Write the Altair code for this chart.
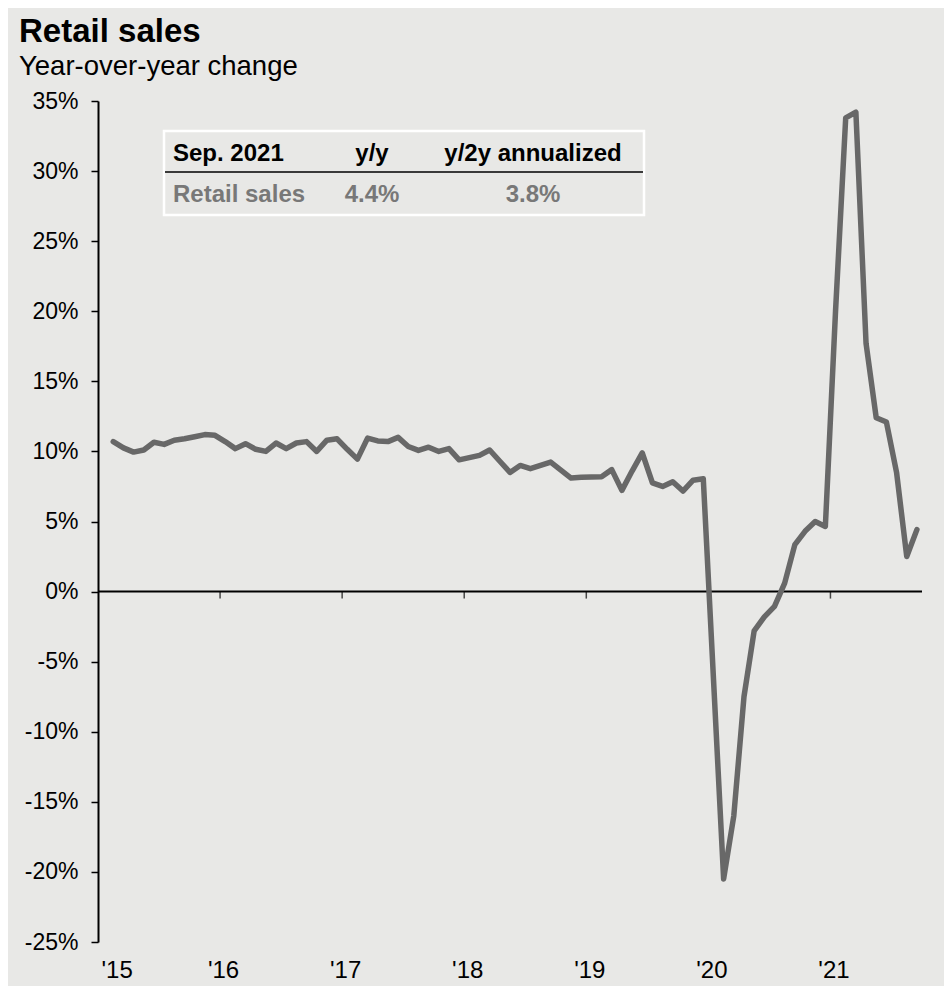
import json
import altair as alt
import pandas as pd

# ---------------- data ----------------
chart_title = "Retail sales"
chart_subtitle = "Year-over-year change"

first_month = "2015-02"
yoy = [10.7, 10.25, 9.95, 10.1, 10.65, 10.5, 10.8, 10.9, 11.05, 11.2, 11.15, 10.7,
       10.2, 10.55, 10.15, 10.0, 10.6, 10.2, 10.6, 10.7, 10.0, 10.8, 10.9, 10.15,
       9.45, 10.95, 10.75, 10.7, 11.0, 10.35, 10.07, 10.3, 10.0, 10.2, 9.4, 9.56,
       9.72, 10.1, 9.3, 8.5, 9.0, 8.77, 9.0, 9.24, 8.67, 8.1, 8.15, 8.17,
       8.2, 8.7, 7.22, 8.6, 9.9, 7.75, 7.5, 7.83, 7.17, 7.95, 8.05, -6.2,
       -20.5, -16.0, -7.5, -2.8, -1.8, -1.05, 0.6, 3.35, 4.3, 5.0, 4.65, 20.0,
       33.8, 34.2, 17.7, 12.4, 12.1, 8.5, 2.5, 4.42]

tick_years = [2015, 2016, 2017, 2018, 2019, 2020, 2021]
tick_labels = ["'15", "'16", "'17", "'18", "'19", "'20", "'21"]
y_ticks = [-25, -20, -15, -10, -5, 0, 5, 10, 15, 20, 25, 30, 35]

table_header = ["Sep. 2021", "y/y", "y/2y annualized"]
table_row = ["Retail sales", "4.4%", "3.8%"]

# ---------------- frames ----------------
periods = pd.period_range(first_month, periods=len(yoy), freq="M")
df = pd.DataFrame({
    "pos": [(p.year - 2015) * 12 + (p.month - 1) + 0.5 for p in periods],
    "yoy": yoy,
})
tick_pos = [(y - 2015) * 12 for y in tick_years]

BG = "#e8e8e6"
FONT = "Liberation Sans"
LINE = "#686868"
W, H = 824, 841

x_scale = alt.Scale(domain=[0, 81], nice=False, zero=False)
y_scale = alt.Scale(domain=[-25, 35], nice=False, zero=False)

label_expr = json.dumps(tick_labels) + "[round(datum.value/12)]"

x_axis = alt.Axis(values=tick_pos, labelExpr=label_expr, domain=False, ticks=False,
                  grid=False, title=None, labelFontSize=24, labelFont=FONT,
                  labelColor="black", labelPadding=16, labelOffset=3)
y_axis = alt.Axis(values=y_ticks, labelExpr="datum.value + '%'", grid=False, title=None,
                  domainColor="black", domainWidth=2, tickColor="black", tickWidth=1.5,
                  tickSize=7, labelFontSize=23, labelFont=FONT, labelColor="black",
                  labelPadding=13)

one = pd.DataFrame({"k": [0]})

table_box = alt.Chart(one).mark_rect(fill=BG, stroke="white", strokeWidth=2.5).encode(
    x=alt.value(66), x2=alt.value(546), y=alt.value(30), y2=alt.value(114))
table_rule = alt.Chart(one).mark_rule(color="black", strokeWidth=1.5).encode(
    x=alt.value(67), x2=alt.value(545), y=alt.value(71))

col_x = [75, 274, 435]
col_align = ["left", "center", "center"]
cells = []
for j in range(3):
    cells.append(alt.Chart(one).mark_text(
        font=FONT, fontSize=24, fontWeight="bold", color="black",
        align=col_align[j], baseline="alphabetic").encode(
        x=alt.value(col_x[j]), y=alt.value(60), text=alt.value(table_header[j])))
    cells.append(alt.Chart(one).mark_text(
        font=FONT, fontSize=24, fontWeight="bold", color="#787878",
        align=col_align[j], baseline="alphabetic").encode(
        x=alt.value(col_x[j]), y=alt.value(101), text=alt.value(table_row[j])))

zero_rule = alt.Chart(pd.DataFrame({"y": [0]})).mark_rule(color="black", strokeWidth=2).encode(
    y=alt.Y("y:Q", scale=y_scale, axis=y_axis))

year_marks = alt.Chart(pd.DataFrame({"pos": tick_pos[1:]})).mark_tick(
    orient="vertical", color="black", thickness=1.5, size=7, yOffset=3.5).encode(
    x=alt.X("pos:Q", scale=x_scale, axis=x_axis), y=alt.datum(0))

line = alt.Chart(df).mark_line(color=LINE, strokeWidth=5.5, strokeJoin="round",
                               strokeCap="round").encode(
    x=alt.X("pos:Q", scale=x_scale, axis=x_axis),
    y=alt.Y("yoy:Q", scale=y_scale, axis=y_axis))

chart = alt.layer(table_box, table_rule, *cells, zero_rule, year_marks, line).properties(
    width=W, height=H,
    autosize=alt.AutoSizeParams(type="none"),
    padding={"left": 90, "top": 93, "right": 22, "bottom": 44},
    background=BG,
    title=alt.TitleParams(text=chart_title, subtitle=chart_subtitle, anchor="start",
                          frame="group", dx=-79, offset=10, font=FONT, fontSize=33,
                          fontWeight="bold", color="black", subtitleFont=FONT,
                          subtitleFontSize=27.5, subtitleColor="black", subtitlePadding=4),
).configure_view(stroke=None)

chart.save("out.html", embed_options={"renderer": "svg", "actions": False})
